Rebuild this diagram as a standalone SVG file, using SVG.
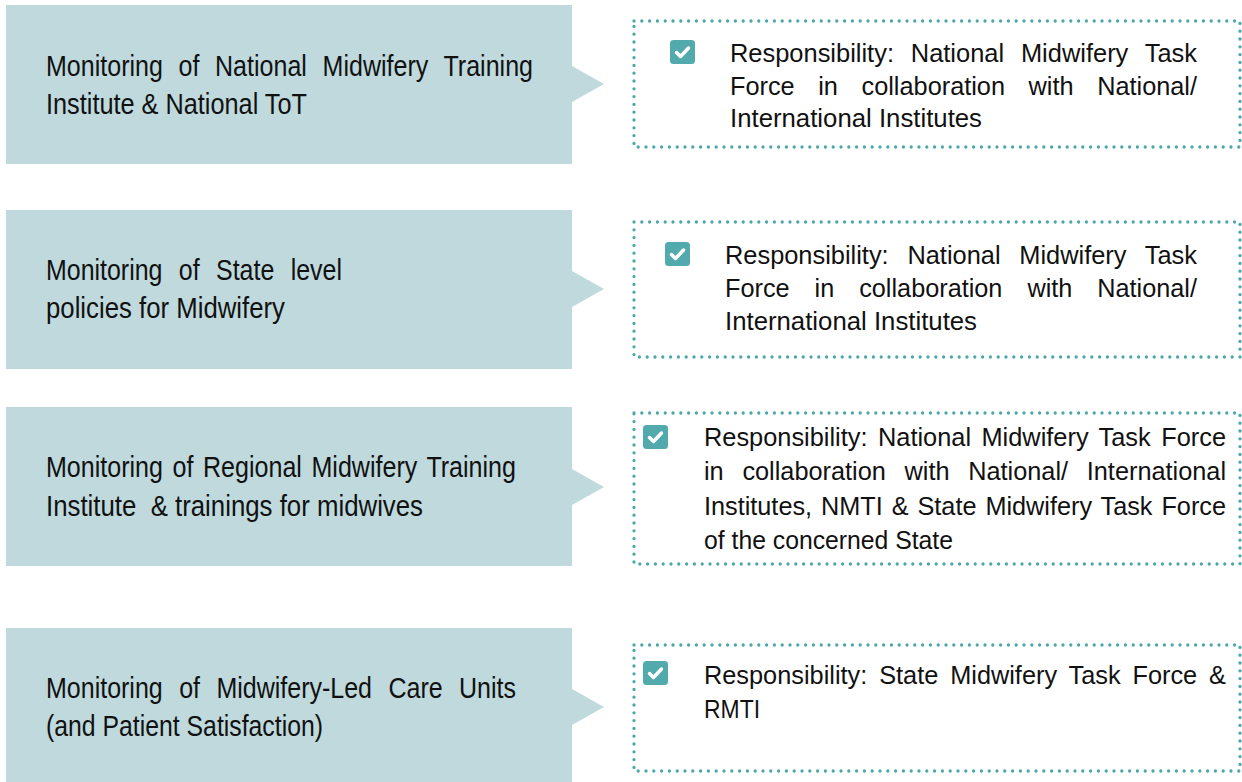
<svg xmlns="http://www.w3.org/2000/svg" width="1242" height="782" viewBox="0 0 1242 782">
<style>
.box{fill:#bfd9dd}
.dot{fill:none;stroke:#4aa7aa;stroke-width:3.3;stroke-dasharray:0 7.8;stroke-linecap:round}
.lt{font-family:"Liberation Sans Narrow","Liberation Sans",Arial,sans-serif;font-size:29px;fill:#111}
.rt{font-family:"Liberation Sans Narrow","Liberation Sans",Arial,sans-serif;font-size:26px;fill:#111}
.ck{fill:#52aaad}
.cm{fill:none;stroke:#fff;stroke-width:3.5;stroke-linecap:round;stroke-linejoin:round}
</style>
<defs>
<g id="check">
<rect class="ck" x="0" y="0" width="25" height="24" rx="3.5"/>
<polyline class="cm" points="6.5,12.5 10.5,16.5 18.5,8"/>
</g>
</defs>
<rect width="1242" height="782" fill="#fff"/>

<g id="node1">
<path class="box" d="M6 5H572V66L604 84L572 102V164H6Z"/>
<text class="lt"><tspan x="46" y="76" textLength="487" lengthAdjust="spacingAndGlyphs" style="word-spacing:10px">Monitoring of National Midwifery Training</tspan><tspan x="46" y="114" textLength="261" lengthAdjust="spacingAndGlyphs">Institute &amp; National ToT</tspan></text>
</g>
<g id="resp1">
<rect class="dot" x="634" y="21" width="606" height="126"/>
<use href="#check" x="670" y="40"/>
<text class="rt"><tspan x="730" y="62" textLength="467" lengthAdjust="spacingAndGlyphs" style="word-spacing:10px">Responsibility: National Midwifery Task</tspan><tspan x="730" y="94.5" textLength="467" lengthAdjust="spacingAndGlyphs" style="word-spacing:17px">Force in collaboration with National/</tspan><tspan x="730" y="127" textLength="252" lengthAdjust="spacingAndGlyphs">International Institutes</tspan></text>
</g>

<g id="node2">
<path class="box" d="M6 210H572V271L604 289L572 307V369H6Z"/>
<text class="lt"><tspan x="46" y="280" textLength="296" lengthAdjust="spacingAndGlyphs" style="word-spacing:11px">Monitoring of State level</tspan><tspan x="46" y="318" textLength="239" lengthAdjust="spacingAndGlyphs">policies for Midwifery</tspan></text>
</g>
<g id="resp2">
<rect class="dot" x="634" y="222" width="606" height="135"/>
<use href="#check" x="665" y="242"/>
<text class="rt"><tspan x="725" y="264" textLength="472" lengthAdjust="spacingAndGlyphs" style="word-spacing:12px">Responsibility: National Midwifery Task</tspan><tspan x="725" y="297" textLength="472" lengthAdjust="spacingAndGlyphs" style="word-spacing:18.5px">Force in collaboration with National/</tspan><tspan x="725" y="330" textLength="252" lengthAdjust="spacingAndGlyphs">International Institutes</tspan></text>
</g>

<g id="node3">
<path class="box" d="M6 407H572V469L604 487L572 505V566H6Z"/>
<text class="lt"><tspan x="46" y="477" textLength="470" lengthAdjust="spacingAndGlyphs" style="word-spacing:3px">Monitoring of Regional Midwifery Training</tspan><tspan x="46" y="516" textLength="377" lengthAdjust="spacingAndGlyphs" style="white-space:pre">Institute  &amp; trainings for midwives</tspan></text>
</g>
<g id="resp3">
<rect class="dot" x="634" y="413" width="606" height="151"/>
<use href="#check" x="643" y="425"/>
<text class="rt"><tspan x="704" y="446" textLength="522" lengthAdjust="spacingAndGlyphs" style="word-spacing:3.5px">Responsibility: National Midwifery Task Force</tspan><tspan x="704" y="480" textLength="522" lengthAdjust="spacingAndGlyphs" style="word-spacing:12px">in collaboration with National/ International</tspan><tspan x="704" y="514.5" textLength="522" lengthAdjust="spacingAndGlyphs" style="word-spacing:2px">Institutes, NMTI &amp; State Midwifery Task Force</tspan><tspan x="704" y="549" textLength="249" lengthAdjust="spacingAndGlyphs">of the concerned State</tspan></text>
</g>

<g id="node4">
<path class="box" d="M6 628H572V689L604 707L572 725V782H6Z"/>
<text class="lt"><tspan x="46" y="698" textLength="470" lengthAdjust="spacingAndGlyphs" style="word-spacing:11px">Monitoring of Midwifery-Led Care Units</tspan><tspan x="46" y="736" textLength="277" lengthAdjust="spacingAndGlyphs">(and Patient Satisfaction)</tspan></text>
</g>
<g id="resp4">
<rect class="dot" x="634" y="645" width="606" height="126"/>
<use href="#check" x="643" y="661"/>
<text class="rt"><tspan x="704" y="684" textLength="522" lengthAdjust="spacingAndGlyphs" style="word-spacing:5px">Responsibility: State Midwifery Task Force &amp;</tspan><tspan x="704" y="718" textLength="56" lengthAdjust="spacingAndGlyphs">RMTI</tspan></text>
</g>

<g id="connectors"></g>
</svg>
